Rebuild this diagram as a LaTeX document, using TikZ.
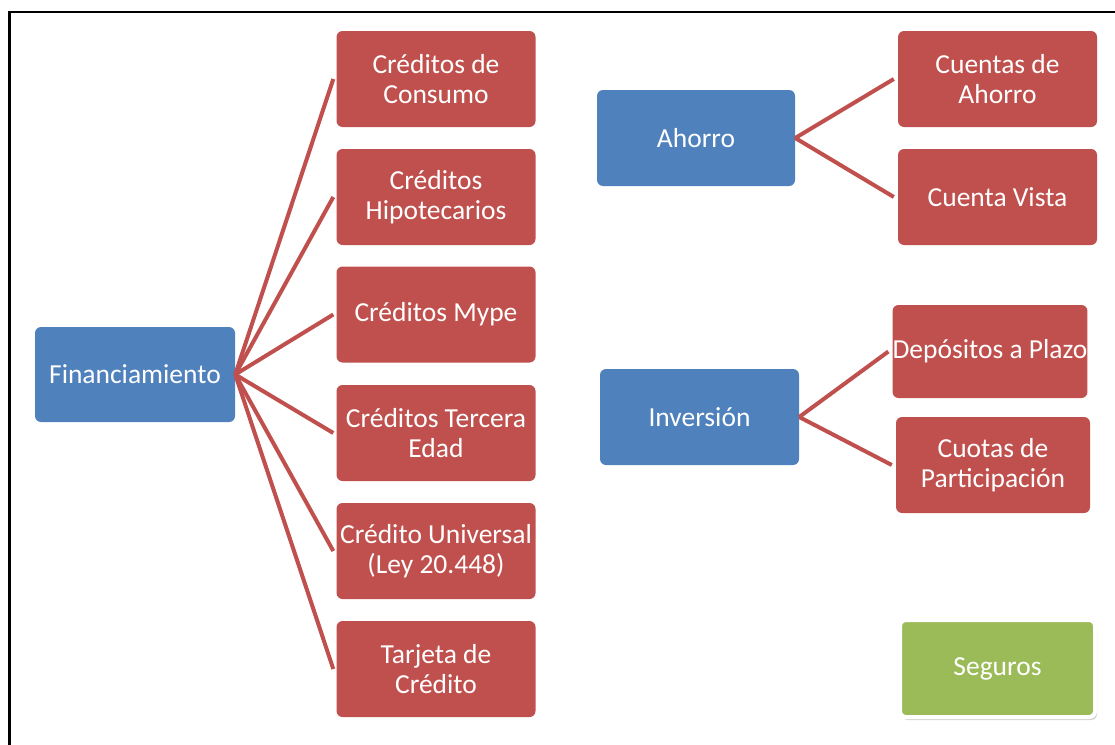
\documentclass[tikz,border=0pt]{standalone}
\usepackage{fontspec}
\setmainfont{Carlito}
\usetikzlibrary{shadows}
\definecolor{boxred}{HTML}{C0504D}
\definecolor{boxblue}{HTML}{4F81BD}
\definecolor{boxgreen}{HTML}{9BBB59}
\begin{document}
\begin{tikzpicture}[x=1pt,y=-1pt,
  box/.style={rectangle, rounded corners=6pt, text=white, align=center,
    font=\fontsize{27.5}{30}\selectfont, inner sep=0pt,
    minimum width=199pt, minimum height=96pt},
  hub/.style={box, fill=boxblue},
  leaf/.style={box, fill=boxred},
  extra/.style={box, fill=boxgreen, draw=white, line width=4pt,
    drop shadow={opacity=0.35, shadow xshift=2pt, shadow yshift=-3pt}},
  link/.style={draw=boxred, line width=4pt}]
\useasboundingbox (0,0) rectangle (1115,744);
% outer frame (open to the right and bottom)
\draw[line width=2.5pt] (1130,12) -- (9.5,12) -- (9.5,760);

% Financiamiento branch
\node[hub, minimum width=200pt, minimum height=95pt] (fin) at (135,374.5) {Financiamiento};
\node[leaf] (c1) at (436,79)    {Créditos de\\Consumo};
\node[leaf] (c2) at (436,197)   {Créditos\\Hipotecarios};
\node[leaf] (c3) at (436,314.5) {Créditos Mype};
\node[leaf] (c4) at (436,433)   {Créditos Tercera\\Edad};
\node[leaf] (c5) at (436,551)   {Crédito Universal\\(Ley 20.448)};
\node[leaf] (c6) at (436,669)   {Tarjeta de\\Crédito};

% Ahorro branch
\node[hub, minimum width=198pt] (aho) at (696,138) {Ahorro};
\node[leaf] (a1) at (997.5,79)  {Cuentas de\\Ahorro};
\node[leaf] (a2) at (997.5,197) {Cuenta Vista};

% Inversión branch
\node[hub] (inv) at (699.5,417) {Inversión};
\node[leaf, minimum width=194pt, minimum height=93pt] (i1) at (990,351.5) {Depósitos a Plazo};
\node[leaf, minimum width=194pt] (i2) at (993,465) {Cuotas de\\Participación};

% Seguros
\node[extra, minimum width=195pt, minimum height=97pt] (seg) at (997.5,668.5) {Seguros};

% connectors
\foreach \c in {c1,c2,c3,c4,c5,c6}
  \draw[link] (fin.east) -- ([xshift=-3pt]\c.west);
\foreach \c in {a1,a2}
  \draw[link] (aho.east) -- ([xshift=-4pt]\c.west);
\foreach \c in {i1,i2}
  \draw[link] (inv.east) -- ([xshift=-4pt]\c.west);
\end{tikzpicture}
\end{document}
